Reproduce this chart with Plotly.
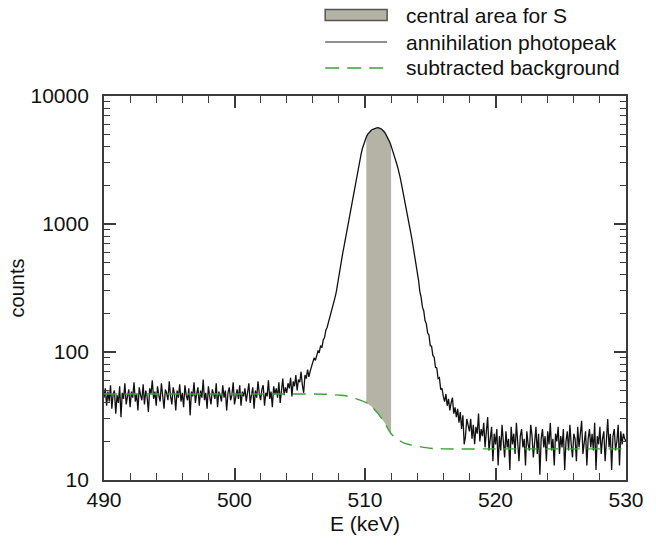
import plotly.graph_objects as go

# ---------------- data ----------------
energy_start = 490.0          # keV, first channel
energy_step = 0.1             # keV per channel

counts = [
    # 490.0 - 503.9
    44, 52, 38, 49, 41, 55, 36, 47, 50, 33,
    46, 40, 54, 31, 48, 43, 57, 39, 45, 51,
    37, 49, 44, 58, 41, 47, 35, 53, 46, 42,
    56, 39, 50, 45, 34, 52, 47, 60, 43, 49,
    38, 54, 46, 41, 57, 44, 36, 51, 48, 42,
    59, 45, 39, 53, 47, 35, 50, 44, 56, 41,
    48, 37, 55, 46, 42, 52, 32, 49, 45, 58,
    40, 47, 53, 38, 50, 44, 61, 42, 48, 36,
    54, 45, 39, 51, 47, 43, 57, 37, 49, 46,
    41, 55, 44, 50, 35, 48, 53, 42, 46, 58,
    39, 47, 51, 43, 55, 38, 49, 45, 52, 41,
    48, 57, 40, 46, 53, 36, 50, 44, 59, 47,
    42, 51, 55, 38, 48, 45, 60, 43, 49, 37,
    54, 47, 52, 44, 58, 40, 50, 62, 46, 53,
    # 504.0 - 505.9
    48, 57, 52, 63, 45, 59, 54, 66, 50, 61,
    58, 70, 55, 48, 66, 62, 73, 64, 71, 78,
    # 506.0 - 519.9
    82, 90, 86, 97, 102, 100, 112, 108, 124, 130,
    148, 156, 170, 182, 200, 218, 240, 266, 295, 345,
    398, 460, 525, 598, 676, 770, 871, 990, 1122, 1280,
    1445, 1650, 1905, 2200, 2512, 2830, 3162, 3520, 3890, 4230,
    4519, 4780, 5012, 5180, 5309, 5420, 5495, 5560, 5598, 5630,
    5650, 5620, 5560, 5480, 5370, 5210, 5012, 4820, 4624, 4360,
    4074, 3810, 3548, 3280, 3020, 2790, 2570, 2290, 2042, 1820,
    1622, 1430, 1259, 1110, 977, 862, 759, 660, 575, 497,
    427, 365, 298, 268, 224, 210, 176, 166, 141, 136,
    112, 111, 94, 91, 76, 75, 62, 63, 51, 52,
    45, 41, 47, 38, 43, 35, 40, 44, 33, 37,
    31, 36, 28, 34, 25, 32, 19, 22, 30, 26,
    24, 30, 21, 27, 19, 26, 23, 33, 20, 25,
    22, 28, 18, 24, 31, 17, 21, 26, 14, 23,
    # 520.0 - 530.0
    19, 25, 13, 22, 17, 27, 20, 15, 24, 18,
    21, 12, 26, 19, 23, 16, 28, 20, 14, 22,
    25, 18, 21, 13, 24, 19, 17, 27, 22, 15,
    20, 26, 16, 23, 11, 21, 25, 18, 22, 14,
    24, 19, 28, 17, 21, 13, 23, 20, 26, 16,
    22, 18, 25, 12, 20, 24, 17, 27, 19, 15,
    23, 21, 14, 26, 18, 22, 29, 16, 20, 24,
    13, 21, 25, 18, 23, 17, 28, 12, 22, 19,
    26, 16, 21, 24, 14, 20, 30, 18, 23, 12,
    22, 25, 17, 20, 27, 13, 24, 19, 23, 21,
    20,
]
energy = [round(energy_start + energy_step * i, 1) for i in range(len(counts))]

bg_energy = [490, 500, 505, 507, 508, 508.5, 509, 509.5, 510.1, 510.5, 511,
             511.5, 512, 512.5, 513, 513.5, 514, 514.5, 515, 516, 520, 530]
bg_counts = [47, 47, 47, 46.8, 46, 45.5, 44.5, 42.5, 40.2, 37.5, 33,
             28, 23, 20.8, 19.4, 18.8, 18.4, 18.0, 17.7, 17.5, 17.5, 17.5]

shade_range = [510.1, 512.0]   # central area for S

x_range = [490, 530]
x_ticks = [490, 500, 510, 520, 530]
y_ticks = [10, 100, 1000, 10000]
y_ticktext = ["10", "100", "1000", "10000"]

legend_names = ["central area for S", "annihilation photopeak", "subtracted background"]

# ---------------- styling ----------------
FONT = "Liberation Sans, Arial, Helvetica, sans-serif"
AX = "#3c3c3c"
SHADE = "#b4b3a6"
GREEN = "#3aa33a"

def in_shade(e):
    return shade_range[0] - 1e-9 <= e <= shade_range[1] + 1e-9

sh_E = [e for e in energy if in_shade(e)]
sh_C = [c for e, c in zip(energy, counts) if in_shade(e)]
sb_E = [e for e in bg_energy if in_shade(e)]
sb_C = [c for e, c in zip(bg_energy, bg_counts) if in_shade(e)]

fig = go.Figure()
fig.add_trace(go.Scatter(x=sb_E, y=sb_C, mode="lines", line=dict(width=0, color=SHADE),
                         showlegend=False, hoverinfo="skip"))
fig.add_trace(go.Scatter(x=sh_E, y=sh_C, mode="lines", line=dict(width=0, color=SHADE),
                         fill="tonexty", fillcolor=SHADE, showlegend=False, name=legend_names[0]))
fig.add_trace(go.Scatter(x=energy, y=counts, mode="lines",
                         line=dict(color="#111111", width=1.3), showlegend=False,
                         name=legend_names[1]))
fig.add_trace(go.Scatter(x=bg_energy, y=bg_counts, mode="lines",
                         line=dict(color=GREEN, width=1.4, dash="13px,8px", shape="spline",
                                   smoothing=0.8),
                         showlegend=False, name=legend_names[2]))

# manual legend (paper coordinates relative to plot area)
L, R, T, B = 104, 635, 96, 480
W, H = R - L, B - T
def px(x):
    return (x - L) / W
def py(y):
    return (B - y) / H

shapes = [
    dict(type="rect", xref="paper", yref="paper", x0=px(329), x1=px(392), y0=py(20.5), y1=py(9.5),
         fillcolor=SHADE, line=dict(color="#555555", width=1.5)),
    dict(type="line", xref="paper", yref="paper", x0=px(329), x1=px(392), y0=py(42), y1=py(42),
         line=dict(color="#222222", width=1.2)),
    dict(type="line", xref="paper", yref="paper", x0=px(329), x1=px(392), y0=py(68), y1=py(68),
         line=dict(color=GREEN, width=1.4, dash="14px,8px")),
]
annotations = []
for name, yy in zip(legend_names, [15, 42, 68]):
    annotations.append(dict(text=name, xref="paper", yref="paper", x=px(409), y=py(yy),
                            xanchor="left", yanchor="middle", showarrow=False,
                            font=dict(size=21, color="#111111", family=FONT)))

fig.update_layout(
    width=656, height=550,
    margin=dict(l=L, r=656 - R, t=T, b=550 - B),
    paper_bgcolor="white", plot_bgcolor="white",
    font=dict(family=FONT, size=21, color="#111111"),
    shapes=shapes, annotations=annotations,
    showlegend=False,
)
fig.update_xaxes(
    range=x_range, tickvals=x_ticks, ticks="inside", ticklen=12, tickwidth=1.5, tickcolor=AX,
    showline=True, linecolor=AX, linewidth=1.8, mirror="ticks", showgrid=False, zeroline=False,
    minor=dict(ticks="inside", ticklen=7, tickwidth=1.2, tickcolor=AX, dtick=2, showgrid=False),
    title=dict(text="E (keV)", font=dict(size=21), standoff=6),
    tickfont=dict(size=21),
)
fig.update_yaxes(
    type="log", range=[1, 4], tickvals=y_ticks, ticktext=y_ticktext,
    ticks="inside", ticklen=12, tickwidth=1.5, tickcolor=AX,
    showline=True, linecolor=AX, linewidth=1.8, mirror="ticks", showgrid=False, zeroline=False,
    minor=dict(ticks="inside", ticklen=6, tickwidth=1.2, tickcolor=AX, dtick="D1", showgrid=False),
    title=dict(text="counts", font=dict(size=20), standoff=0),
    tickfont=dict(size=21), ticklabelstandoff=9,
)

fig.write_html("out.html", config={"displayModeBar": False},
               post_script="document.body.style.margin='0px';")
